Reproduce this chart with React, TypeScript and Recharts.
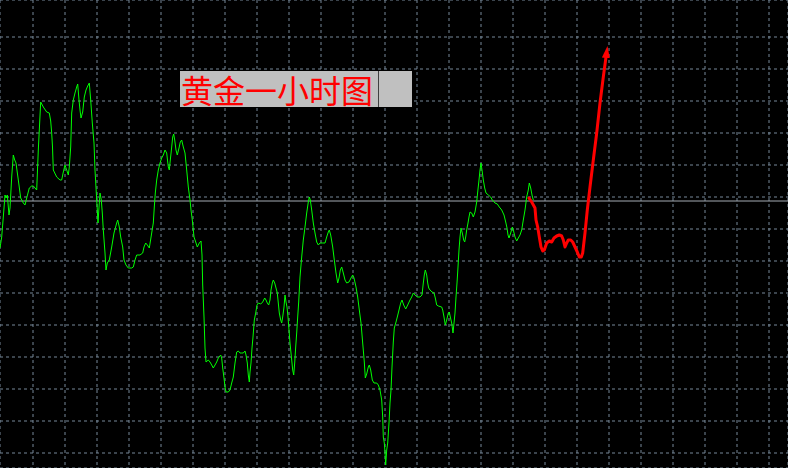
import React from 'react';
import { LineChart, Line, XAxis, YAxis, CartesianGrid, ReferenceLine } from 'recharts';

// hourly gold trace: [bar position, price level]
const GOLD_TRACE: [number, number][] = [
  [0, 220], [1.7, 231], [3.3, 251], [5, 273], [6, 270], [7.3, 273], [9, 253], [10, 260], [11.7, 291], [13.3, 313],
  [14.7, 308], [16, 305], [18.3, 288], [20.7, 270], [23.3, 265], [25, 263], [26.7, 270], [29.3, 280], [31.7, 282],
  [33.3, 282], [35, 280], [36.7, 278], [38.3, 318], [40.7, 366], [43.3, 361], [46.7, 356], [49.3, 355], [50.7, 347],
  [51.7, 335], [52.5, 321], [53.3, 298], [56.7, 291], [60, 288], [61.7, 288], [63.3, 296], [65, 303], [66.7, 298],
  [68.3, 293], [69.3, 301], [70.7, 321], [71.7, 355], [73.3, 368], [75, 375], [76.7, 381], [77.7, 384], [79, 368],
  [80, 358], [81, 350], [82.7, 356], [84.3, 371], [86, 378], [87.7, 382], [89.3, 385], [90.7, 368], [92.3, 345],
  [94, 325], [95, 298], [96.3, 275], [97.3, 258], [98, 245], [98.7, 256], [100, 275], [101.3, 268], [102.3, 255],
  [103.3, 238], [105, 215], [106, 198], [107.3, 205], [109.3, 208], [111.7, 221], [114, 235], [116.7, 245],
  [117.7, 248], [119.3, 241], [120.7, 231], [122.7, 221], [124, 208], [126, 203], [128.3, 200], [131.7, 200],
  [133.3, 201], [135, 208], [136.7, 213], [140, 213], [142.7, 215], [144, 221], [145.7, 225], [147.3, 223],
  [149.3, 220], [151.7, 235], [153.3, 245], [154.3, 261], [155.3, 275], [156.7, 288], [158.3, 298], [160, 305],
  [161.7, 310], [163.3, 313], [165, 318], [166.7, 315], [168.3, 301], [169.3, 298], [170.3, 308], [171.7, 321],
  [172.7, 331], [173.7, 334], [174.7, 328], [176, 318], [177.3, 313], [179, 320], [180.3, 326], [181.7, 328],
  [183.3, 321], [185, 315], [186.7, 298], [188.3, 281], [190, 268], [191, 258], [192.3, 248], [193.3, 238],
  [194, 231], [195.7, 226], [197.3, 221], [199.3, 225], [201, 227], [202, 213], [202.7, 183], [204, 151], [205, 120],
  [206, 106], [208.3, 108], [210, 106], [211.7, 103], [213.3, 100], [215, 103], [216.7, 106], [218.3, 110],
  [220.7, 113], [221.7, 110], [222.7, 100], [224, 90], [225, 81], [226, 76], [228.3, 76], [230, 78], [231.7, 85],
  [233.3, 91], [235, 105], [236.7, 116], [238.3, 117], [240, 115], [241.7, 115], [243.3, 115], [245, 117],
  [246, 113], [247.3, 105], [248.3, 93], [249.3, 86], [250, 96], [251, 105], [252, 120], [253, 131], [254.3, 148],
  [255.7, 155], [257, 163], [258.3, 165], [260.7, 164], [262.7, 166], [264.7, 170], [266, 168], [267.3, 165],
  [268.7, 163], [270, 168], [271, 178], [272.3, 185], [273.3, 188], [274.7, 185], [276, 180], [277.3, 175],
  [278.3, 165], [279.3, 155], [280.7, 148], [281.7, 145], [282.7, 151], [284, 161], [285, 173], [286, 166],
  [287, 161], [288, 151], [289, 138], [290, 125], [291, 115], [292.7, 98], [293.7, 93], [294.7, 105], [295.7, 121],
  [296.7, 135], [297.7, 151], [298.7, 166], [299.7, 185], [300, 191], [301.7, 211], [303.3, 228], [305, 241],
  [306.7, 255], [308.3, 266], [309.3, 271], [310.3, 268], [311.7, 258], [313.3, 245], [315, 235], [316.7, 226],
  [318.3, 223], [320, 225], [322.7, 225], [325, 225], [326.7, 231], [328.3, 236], [329.3, 238], [330.7, 233],
  [332.7, 221], [334.3, 208], [336, 195], [337.7, 185], [339, 190], [340.3, 198], [341.7, 201], [343.3, 195],
  [345, 188], [346.7, 185], [349, 186], [351, 190], [352.7, 193], [354, 190], [356, 181], [357.7, 171],
  [359.3, 158], [361, 145], [362.7, 125], [364.3, 106], [365.3, 90], [366.7, 94], [368.3, 101], [369.3, 103],
  [370.7, 98], [372.3, 88], [374, 85], [376.7, 85], [378.3, 83], [380, 78], [381.7, 68], [382.7, 51], [383.3, 31],
  [384.3, 25], [385, 16], [385.7, 3], [386.7, 18], [387.7, 25], [389, 45], [390, 65], [391, 78], [392, 101],
  [393.3, 126], [394.3, 140], [396, 146], [397.3, 151], [399, 158], [400.7, 165], [402, 168], [403.7, 163],
  [405.7, 159], [407.7, 163], [410, 168], [411.7, 171], [413.3, 175], [415, 173], [417.3, 171], [420, 171],
  [422, 173], [423.3, 185], [424.3, 193], [425.3, 198], [426.7, 193], [427.7, 185], [428.7, 180], [430, 178],
  [432, 176], [434, 175], [435.3, 170], [436.7, 163], [438.3, 162], [441.7, 161], [442.7, 158], [444, 151],
  [445.3, 143], [446.7, 148], [448.3, 155], [449.3, 156], [450.3, 151], [451.7, 145], [453, 135], [454, 145],
  [455, 155], [456, 171], [457, 185], [458, 201], [459, 218], [460, 231], [461, 240], [462.3, 235], [463.7, 228],
  [464.7, 226], [465.7, 231], [466.7, 238], [468, 245], [469, 251], [470, 256], [471.7, 255], [473.3, 251],
  [475, 256], [476.7, 266], [477.7, 276], [479, 288], [480, 298], [481, 305], [482, 298], [483.3, 288],
  [484.7, 280], [486, 275], [488.3, 273], [490.7, 271], [492.3, 268], [495, 265], [497.3, 264], [499.3, 261],
  [501.7, 258], [504, 253], [505.7, 246], [507, 240], [508, 233], [509, 230], [510.7, 235], [512.3, 241],
  [513.3, 238], [515, 231], [516.7, 227], [518.3, 230], [520, 233], [521.7, 238], [523.3, 248], [525, 258],
  [526.7, 271], [528.3, 278], [529.3, 285], [530.7, 280], [532, 273], [533.3, 268],
];

// forecast path drawn in red, ends in an arrow
const FORECAST: [number, number][] = [
  [528.3, 271], [531.7, 266], [535, 260], [536, 248], [537.7, 241], [539.3, 231], [541, 221], [542.7, 217],
  [544.3, 218], [546.7, 225], [549.3, 227], [551.7, 226], [554, 230], [556.7, 232], [559.3, 233], [561.7, 232],
  [563.3, 228], [565, 221], [566.7, 225], [568.3, 228], [570.7, 228], [572.7, 226], [575, 221], [577.3, 216],
  [579.3, 211], [581.3, 211], [582.7, 215], [585, 235], [587.3, 258], [590, 281], [593.3, 308], [596.7, 335],
  [600, 365], [603.3, 391], [606, 411],
];

const BID_LEVEL = 267;
const X_TICKS = [1, 33, 65, 97, 129, 161, 193, 225, 257, 289, 321, 353, 385, 417, 449, 481, 513, 545, 577, 609, 641, 673, 705, 737, 769];
const Y_TICKS = [463, 431, 399, 367, 335, 303, 271, 239, 207, 175, 143, 111, 79, 47, 15];
const TITLE = '黄金一小时图';

const goldData = GOLD_TRACE.map(([t, p]) => ({ t, p }));
const forecastData = FORECAST.map(([t, p]) => ({ t, p }));

export default function App() {
  return (
    <div style={{ position: 'relative', width: 788, height: 468, background: '#000', overflow: 'hidden' }}>
      <style>{'body { margin: 0; background: #000; }'}</style>
      <LineChart width={788} height={468} margin={{ top: 0, right: 0, bottom: 0, left: 0 }}>
        <defs>
          <marker id="arrowHead" markerUnits="userSpaceOnUse" markerWidth={12} markerHeight={10}
            viewBox="0 0 12 10" refX={1} refY={5} orient="auto">
            <path d="M0,1 L12,5 L0,9 z" fill="#ff0000" />
          </marker>
        </defs>
        <XAxis type="number" dataKey="t" domain={[0, 788]} ticks={X_TICKS} hide allowDataOverflow />
        <YAxis type="number" domain={[0, 468]} ticks={Y_TICKS} hide allowDataOverflow />
        <CartesianGrid stroke="#778899" strokeDasharray="3 3" />
        <ReferenceLine y={BID_LEVEL} stroke="#a4abb3" strokeWidth={1} />
        <Line data={goldData} dataKey="p" type="linear" stroke="#00ff00" strokeWidth={1}
          dot={false} activeDot={false} isAnimationActive={false} />
        <Line data={forecastData} dataKey="p" type="linear" stroke="#ff0000" strokeWidth={3}
          strokeLinejoin="round" dot={false} activeDot={false} isAnimationActive={false}
          markerEnd="url(#arrowHead)" />
      </LineChart>
      <div style={{
        position: 'absolute', left: 180, top: 71, width: 232, height: 36, background: '#c0c0c0',
        color: '#ff0000', fontFamily: '"Noto Sans CJK SC", sans-serif', fontSize: 32, lineHeight: '36px',
        paddingLeft: 1, boxSizing: 'border-box', whiteSpace: 'nowrap',
      }}>
        {TITLE}
        <span style={{ position: 'absolute', left: 198, top: 0, width: 1, height: 36, background: '#404040' }} />
      </div>
    </div>
  );
}
